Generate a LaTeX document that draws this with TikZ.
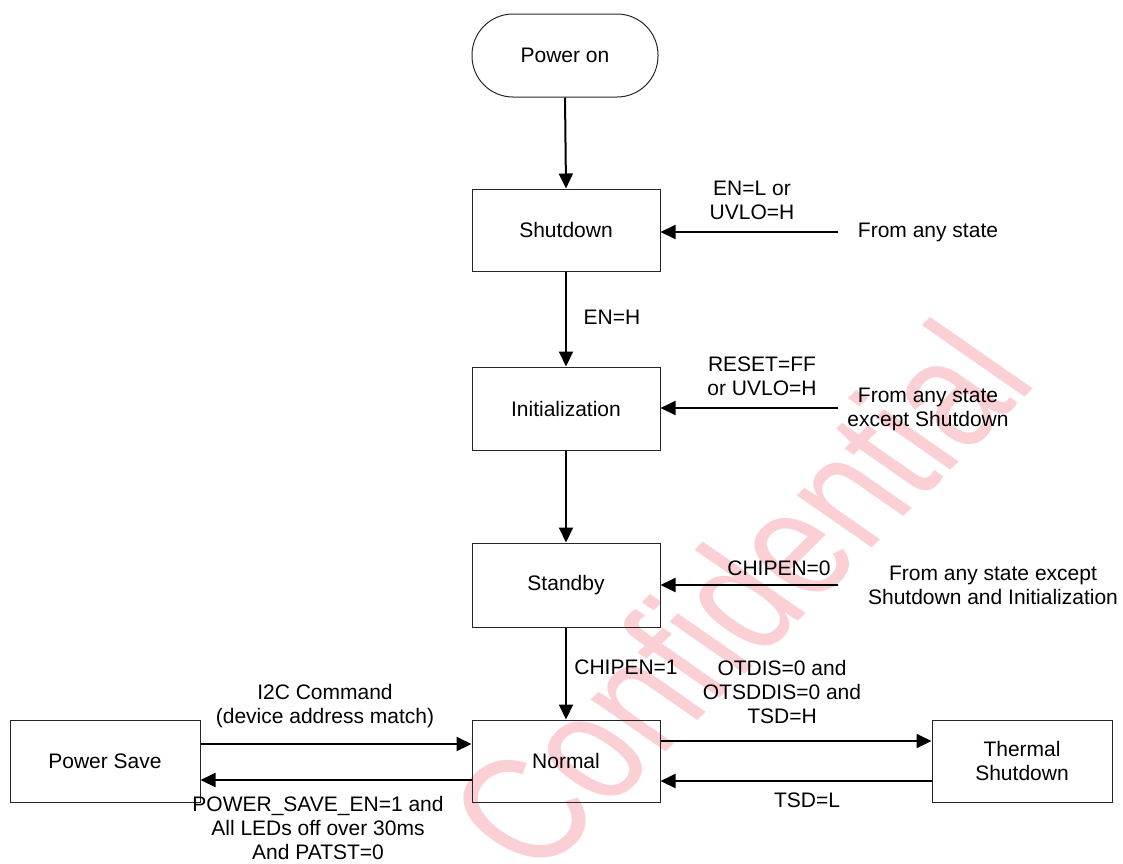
\documentclass[tikz,border=0pt]{standalone}
\usepackage{fontspec}
\setmainfont{Liberation Sans}
\usetikzlibrary{arrows.meta}
\definecolor{wmpink}{RGB}{251,208,212}

\begin{document}
\begin{tikzpicture}[x=1pt,y=-1pt,
  every node/.style={font=\fontsize{21}{24}\selectfont},
  statebox/.style={draw=black!85, line width=1pt, minimum width=188pt, minimum height=82pt, inner sep=0pt, align=center},
  lbl/.style={align=center, inner sep=0pt},
  flow/.style={line width=2pt, -{Triangle[length=15pt,width=14pt]}}
]
\useasboundingbox (0,0) rectangle (1123,863);

% watermark behind the diagram
\begin{scope}[shift={(1040,382)}, yscale=0.83]
  \node[transform shape, rotate=50, xscale=0.8, anchor=base east, inner sep=0pt,
        text=wmpink, font=\fontsize{185}{185}\selectfont] (wm) at (0,0) {Confidential};
\end{scope}

% states
\node[draw=black!85, line width=1pt, rounded corners=41pt, minimum width=186pt, minimum height=83pt] (on) at (565,55.5) {Power on};
\node[statebox] (sd)   at (566,230)   {Shutdown};
\node[statebox, minimum height=83pt] (init) at (566,408.5) {Initialization};
\node[statebox, minimum height=84pt] (sb)   at (566,585)   {Standby};
\node[statebox] (nm)   at (566,761)   {Normal};
\node[statebox, minimum width=180pt] (tsd) at (1022,761) {Thermal\\Shutdown};
\node[statebox, minimum width=190pt] (ps)  at (105,761)  {Power Save};

% free ends of the global transitions
\coordinate (any1) at (838,232);
\coordinate (any2) at (838,408);
\coordinate (any3) at (838,585);

% main sequence
\draw[flow] (on.south) -- (sd.north);
\draw[flow] (sd.south) -- (init.north);
\draw[flow] (init.south) -- (sb.north);
\draw[flow] (sb.south) -- (nm.north);

% transitions from any state
\draw[flow] (any1) -- (any1 -| sd.east);
\draw[flow] (any2) -- (any2 -| init.east);
\draw[flow] (any3) -- (any3 -| sb.east);

% normal <-> thermal shutdown
\coordinate (nt1) at (660,741);
\coordinate (nt2) at (932,781);
\draw[flow] (nt1 -| nm.east) -- (nt1 -| tsd.west);
\draw[flow] (nt2 -| tsd.west) -- (nt2 -| nm.east);

% normal <-> power save
\coordinate (np1) at (200,744);
\coordinate (np2) at (472,780);
\draw[flow] (np1 -| ps.east) -- (np1 -| nm.west);
\draw[flow] (np2 -| nm.west) -- (np2 -| ps.east);

% labels
\node[lbl] (l1) at (752,200) {EN=L or\\UVLO=H};
\node[lbl] (f1) at (928,232) {From any state};
\node[lbl] (l2) at (612,317) {EN=H};
\node[lbl] (l3) at (762,376) {RESET=FF\\or UVLO=H};
\node[lbl] (f2) at (928,409) {From any state\\except Shutdown};
\node[lbl] (l4) at (779,568) {CHIPEN=0};
\node[lbl] (f3) at (993,585) {From any state except\\Shutdown and Initialization};
\node[lbl] (l5) at (626,667) {CHIPEN=1};
\node[lbl] (l6) at (782,692) {OTDIS=0 and\\OTSDDIS=0 and\\TSD=H};
\node[lbl] (l7) at (807,800) {TSD=L};
\node[lbl] (l8) at (325,706) {I2C Command\\(device address match)};
\node[lbl] (l9) at (318,828) {POWER\_SAVE\_EN=1 and\\All LEDs off over 30ms\\And PATST=0};
\end{tikzpicture}
\end{document}
